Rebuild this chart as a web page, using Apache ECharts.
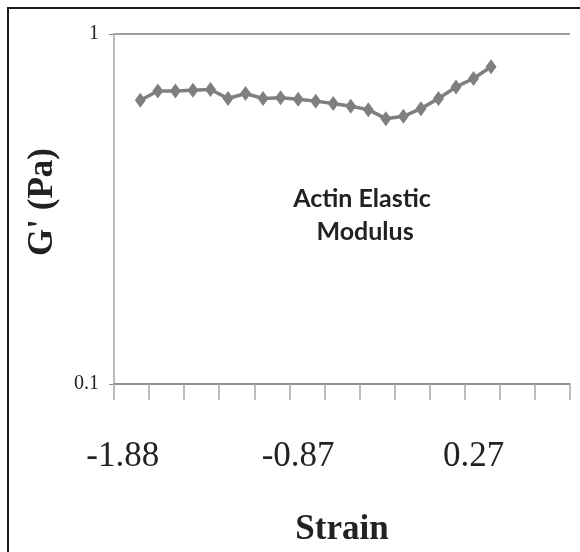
<!DOCTYPE html>
<html>
<head>
<meta charset="utf-8">
<style>html,body{margin:0;padding:0;background:#fff;}#chart{width:580px;height:552px;}</style>
<script src="https://cdn.jsdelivr.net/npm/echarts@6/dist/echarts.min.js"></script>
</head>
<body>
<div id="chart"></div>
<script>
// Strain categories (only every 10th is labelled in the original)
var categories = ['-1.88','','','','','','','','','',
                  '-0.87','','','','','','','','','',
                  '0.27','','','','',''];
// G' (Pa) values (null where no point is drawn)
var gPrime = [null, 0.647, 0.687, 0.687, 0.691, 0.694, 0.654, 0.676, 0.654, 0.657, 0.651,
              0.643, 0.633, 0.622, 0.608, 0.573, 0.582, 0.612, 0.654, 0.706, 0.746, 0.806,
              null, null, null, null];
var yTicks = [0.1, 1];

var chart = echarts.init(document.getElementById('chart'));
chart.setOption({
  animation: false,
  backgroundColor: '#fff',
  grid: {left: 114, right: 10, top: 34, bottom: 168, containLabel: false, outerBoundsMode: 'none'},
  graphic: [
    {type: 'rect', shape: {x: 8, y: 8, width: 640, height: 640}, style: {fill: 'none', stroke: '#1a1a1a', lineWidth: 2}, z: 100},
    {type: 'text', x: 362, y: 182, style: {text: 'Actin Elastic\n Modulus', font: 'bold 25px Lato', fill: '#222', lineHeight: 33, textAlign: 'center'}}
  ],
  xAxis: {
    type: 'category',
    data: categories,
    boundaryGap: true,
    axisLine: {lineStyle: {color: '#8c8c8c', width: 1.5}},
    axisTick: {show: true, interval: 1, length: 16, lineStyle: {color: '#a6a6a6', width: 1.5}},
    axisLabel: {interval: 9, margin: 55, fontFamily: 'Liberation Serif', fontSize: 35, color: '#222'},
    name: 'Strain',
    nameLocation: 'middle',
    nameGap: 128,
    nameTextStyle: {fontFamily: 'Liberation Serif', fontWeight: 'bold', fontSize: 35, color: '#222'}
  },
  yAxis: {
    type: 'log',
    min: yTicks[0],
    max: yTicks[1],
    logBase: 10,
    axisLine: {show: true, lineStyle: {color: '#a6a6a6', width: 1.5}},
    axisTick: {show: true, length: 5, lineStyle: {color: '#8c8c8c'}},
    splitLine: {show: true, lineStyle: {color: '#7f7f7f', width: 1.5}},
    axisLabel: {margin: 15, fontFamily: 'Liberation Serif', fontSize: 20, color: '#222'},
    name: "G' (Pa)",
    nameLocation: 'middle',
    nameRotate: 90,
    nameGap: 54,
    nameTextStyle: {fontFamily: 'Liberation Serif', fontWeight: 'bold', fontSize: 35, color: '#222', padding: [0, 0, 0, 14]}
  },
  series: [{
    type: 'line',
    data: gPrime,
    connectNulls: false,
    showSymbol: true,
    showAllSymbol: true,
    symbol: 'diamond',
    symbolSize: [11, 15],
    lineStyle: {color: '#7f7f7f', width: 3.5},
    itemStyle: {color: '#7f7f7f'}
  }]
});
</script>
</body>
</html>
